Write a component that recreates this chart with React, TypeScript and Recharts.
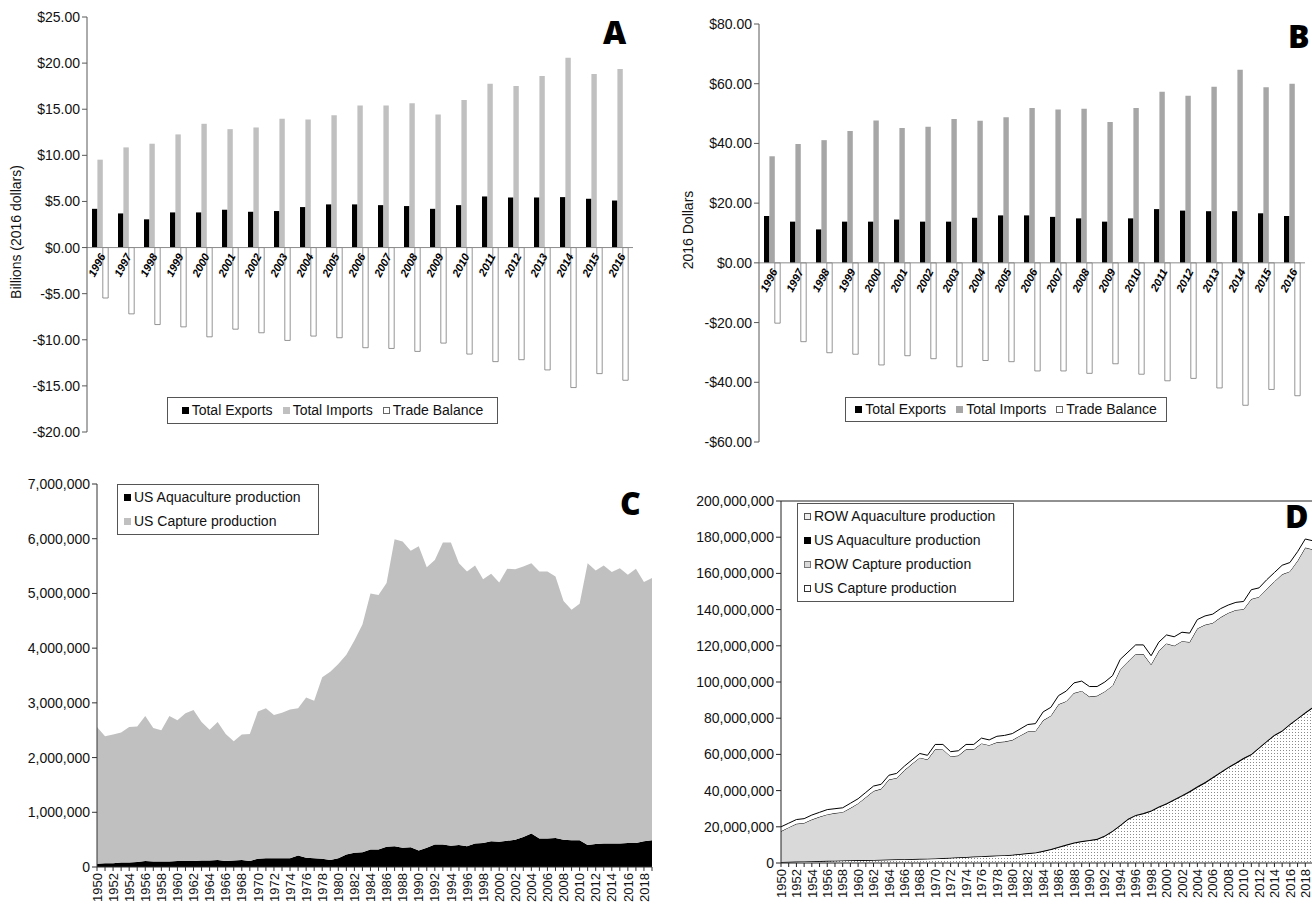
import React from 'react';
import { BarChart, Bar, XAxis, YAxis, ReferenceLine, AreaChart, Area, Legend } from 'recharts';

const FONT = '"Liberation Sans", Arial, sans-serif';
const LETTER_FONT = '"Open Sans", "DejaVu Sans", sans-serif';

// ---------- Panels A & B: trade (billions) ----------
const tradeYears = ['1996', '1997', '1998', '1999', '2000', '2001', '2002', '2003', '2004', '2005', '2006', '2007', '2008', '2009', '2010', '2011', '2012', '2013', '2014', '2015', '2016'];

const exportsA = [4.2, 3.7, 3.06, 3.81, 3.81, 4.1, 3.88, 3.96, 4.39, 4.68, 4.68, 4.6, 4.5, 4.2, 4.6, 5.54, 5.43, 5.43, 5.47, 5.29, 5.1];
const importsA = [9.53, 10.86, 11.26, 12.27, 13.42, 12.84, 13.02, 13.96, 13.88, 14.35, 15.4, 15.4, 15.65, 14.42, 16.0, 17.77, 17.52, 18.6, 20.58, 18.81, 19.35];
const balanceA = [-5.47, -7.19, -8.35, -8.6, -9.68, -8.85, -9.24, -10.07, -9.6, -9.78, -10.86, -10.94, -11.26, -10.36, -11.55, -12.37, -12.16, -13.27, -15.18, -13.67, -14.39];

const exportsB = [15.7, 13.8, 11.2, 13.8, 13.8, 14.5, 13.8, 13.8, 15.1, 15.9, 15.9, 15.4, 14.9, 13.8, 14.9, 18.0, 17.5, 17.3, 17.3, 16.6, 15.7];
const importsB = [35.7, 39.8, 41.1, 44.2, 47.7, 45.2, 45.6, 48.2, 47.6, 48.8, 51.9, 51.4, 51.6, 47.2, 51.9, 57.3, 56.0, 59.0, 64.7, 58.8, 60.0];
const balanceB = [-20.2, -26.4, -30.1, -30.6, -34.2, -31.1, -32.1, -34.8, -32.7, -33.1, -36.2, -36.2, -37.0, -33.8, -37.3, -39.5, -38.7, -41.9, -47.7, -42.4, -44.5];

const ticksA = [-20, -15, -10, -5, 0, 5, 10, 15, 20, 25];
const ticksB = [-60, -40, -20, 0, 20, 40, 60, 80];

// ---------- Panels C & D: production (million tonnes) ----------
const prodYears = ['1950', '1951', '1952', '1953', '1954', '1955', '1956', '1957', '1958', '1959',
  '1960', '1961', '1962', '1963', '1964', '1965', '1966', '1967', '1968', '1969',
  '1970', '1971', '1972', '1973', '1974', '1975', '1976', '1977', '1978', '1979',
  '1980', '1981', '1982', '1983', '1984', '1985', '1986', '1987', '1988', '1989',
  '1990', '1991', '1992', '1993', '1994', '1995', '1996', '1997', '1998', '1999',
  '2000', '2001', '2002', '2003', '2004', '2005', '2006', '2007', '2008', '2009',
  '2010', '2011', '2012', '2013', '2014', '2015', '2016', '2017', '2018', '2019'];

const usAqua = [0.06, 0.07, 0.07, 0.08, 0.08, 0.09, 0.11, 0.10, 0.10, 0.10,
  0.11, 0.11, 0.11, 0.12, 0.12, 0.13, 0.11, 0.12, 0.13, 0.11,
  0.15, 0.16, 0.16, 0.16, 0.16, 0.21, 0.17, 0.16, 0.15, 0.13,
  0.16, 0.23, 0.26, 0.27, 0.32, 0.32, 0.37, 0.38, 0.35, 0.36,
  0.30, 0.35, 0.41, 0.41, 0.39, 0.40, 0.38, 0.43, 0.44, 0.47,
  0.46, 0.48, 0.50, 0.55, 0.61, 0.52, 0.52, 0.53, 0.50, 0.49,
  0.49, 0.40, 0.42, 0.43, 0.43, 0.43, 0.44, 0.44, 0.47, 0.49];

const usCapture = [2.50, 2.32, 2.35, 2.38, 2.48, 2.48, 2.65, 2.44, 2.40, 2.66,
  2.57, 2.70, 2.76, 2.53, 2.39, 2.52, 2.32, 2.18, 2.29, 2.32,
  2.69, 2.74, 2.62, 2.66, 2.72, 2.69, 2.93, 2.88, 3.32, 3.44,
  3.55, 3.65, 3.88, 4.16, 4.68, 4.65, 4.82, 5.61, 5.60, 5.42,
  5.56, 5.13, 5.20, 5.52, 5.54, 5.15, 5.02, 5.08, 4.82, 4.89,
  4.74, 4.97, 4.94, 4.94, 4.94, 4.88, 4.88, 4.78, 4.36, 4.21,
  4.32, 5.15, 5.00, 5.08, 4.96, 5.03, 4.90, 5.01, 4.74, 4.79];

const rowAqua = [0.5, 0.6, 0.7, 0.8, 0.9, 1.0, 1.1, 1.2, 1.3, 1.4,
  1.5, 1.5, 1.6, 1.7, 1.8, 1.9, 2.0, 2.1, 2.2, 2.3,
  2.4, 2.6, 2.8, 3.0, 3.2, 3.4, 3.6, 3.8, 4.0, 4.2,
  4.4, 4.8, 5.2, 5.6, 6.4, 7.4, 8.6, 9.8, 11.0, 11.8,
  12.4, 13.0, 14.8, 17.4, 20.6, 24.0, 26.2, 27.2, 28.6, 30.8,
  32.6, 34.8, 37.0, 39.2, 41.8, 44.2, 47.0, 49.8, 52.6, 55.0,
  57.6, 59.8, 63.4, 67.0, 70.4, 72.8, 76.4, 79.6, 82.8, 85.8];

const rowCapture = [16.94, 19.01, 20.88, 21.24, 23.04, 24.43, 25.64, 26.26, 26.70, 28.84,
  31.32, 34.69, 38.03, 39.15, 44.19, 44.95, 49.07, 52.60, 55.88, 54.77,
  60.26, 60.00, 55.92, 56.18, 59.42, 59.20, 62.30, 61.16, 62.53, 62.73,
  63.39, 65.32, 67.16, 66.97, 72.10, 73.63, 78.71, 79.21, 82.55, 82.92,
  79.24, 79.02, 79.59, 80.17, 85.97, 86.95, 88.90, 87.79, 80.64, 85.84,
  88.20, 84.75, 85.06, 82.31, 87.15, 86.90, 85.10, 85.39, 85.04, 84.30,
  82.09, 85.65, 83.18, 83.99, 84.71, 86.24, 84.26, 86.95, 90.99, 86.92];

const ticksC = [0, 1e6, 2e6, 3e6, 4e6, 5e6, 6e6, 7e6];
const ticksD = [0, 20e6, 40e6, 60e6, 80e6, 100e6, 120e6, 140e6, 160e6, 180e6, 200e6];

const MILLION = 1e6;

const tradeRows = (exp: number[], imp: number[], bal: number[]) =>
  tradeYears.map((year, i) => ({ year, exports: exp[i], imports: imp[i], balance: bal[i] }));

const prodRows = prodYears.map((year, i) => ({
  year,
  usAqua: usAqua[i] * MILLION,
  usCapture: usCapture[i] * MILLION,
  rowAqua: rowAqua[i] * MILLION,
  rowCapture: rowCapture[i] * MILLION,
}));

const money = (v: number) => (v < 0 ? `-$${Math.abs(v).toFixed(2)}` : `$${v.toFixed(2)}`);
const intFmt = (v: number) => Math.round(v).toLocaleString('en-US');

type Item = { label: string; fill: string; border?: string };

function LegendBox({ items, horizontal, width, height, rowGap }: { items: Item[]; horizontal?: boolean; width: number; height: number; rowGap?: number }) {
  return (
    <div
      style={{
        width,
        height,
        boxSizing: 'border-box',
        border: '1px solid #555',
        background: '#fff',
        display: 'flex',
        flexDirection: horizontal ? 'row' : 'column',
        alignItems: horizontal ? 'center' : 'flex-start',
        justifyContent: horizontal ? 'center' : 'flex-start',
        padding: horizontal ? '0 6px' : '4px 6px',
        gap: horizontal ? 10 : rowGap,
        fontFamily: FONT,
        fontSize: 14,
        color: '#111',
        whiteSpace: 'nowrap',
      }}
    >
      {items.map((it) => (
        <div key={it.label} style={{ display: 'flex', alignItems: 'center', lineHeight: '17px' }}>
          <span
            style={{
              display: 'inline-block',
              width: 7,
              height: 7,
              boxSizing: 'border-box',
              background: it.fill,
              border: it.border ? `1px solid ${it.border}` : 'none',
              marginRight: 3,
            }}
          />
          <span>{it.label}</span>
        </div>
      ))}
    </div>
  );
}

function Letter({ ch, left, top }: { ch: string; left: number; top: number }) {
  return (
    <div style={{ position: 'absolute', left, top, fontFamily: LETTER_FONT, fontWeight: 800, fontSize: 32, lineHeight: 1, color: '#000' }}>
      {ch}
    </div>
  );
}

function VLabel({ text, cx, cy }: { text: string; cx: number; cy: number }) {
  return (
    <div style={{ position: 'absolute', left: cx, top: cy, width: 0, height: 0 }}>
      <div
        style={{
          position: 'absolute',
          transform: 'translate(-50%, -50%) rotate(-90deg)',
          whiteSpace: 'nowrap',
          fontFamily: FONT,
          fontSize: 14,
          color: '#111',
        }}
      >
        {text}
      </div>
    </div>
  );
}

type TradeProps = {
  left: number;
  data: any[];
  domain: [number, number];
  ticks: number[];
  importColor: string;
  margin: { top: number; right: number; bottom: number; left: number };
  legendX: number;
  legendY: number;
  legendW: number;
  legendH: number;
};

const X_AXIS_H = 2;

function TradePanel({ left, data, domain, ticks, importColor, margin, legendX, legendY, legendW, legendH }: TradeProps) {
  const W = 656;
  const H = 450;
  const plotH = H - margin.top - margin.bottom - X_AXIS_H;
  const zeroY = margin.top + (domain[1] / (domain[1] - domain[0])) * plotH;
  const YearTick = (p: any) => (
    <text
      transform={`translate(${p.x + 3},${zeroY + 7}) rotate(-62)`}
      textAnchor="end"
      dy="0.3em"
      fontSize={11}
      fontWeight={700}
      fontStyle="italic"
      fontFamily={FONT}
      fill="#000"
    >
      {p.payload.value}
    </text>
  );
  const items: Item[] = [
    { label: 'Total Exports', fill: '#000' },
    { label: 'Total Imports', fill: importColor },
    { label: 'Trade Balance', fill: '#fff', border: '#666' },
  ];
  return (
    <div style={{ position: 'absolute', left, top: 0, width: W, height: H }}>
      <BarChart width={W} height={H} data={data} margin={margin} barGap={0} barSize={5.4}>
        <XAxis dataKey="year" height={X_AXIS_H} axisLine={false} tickLine={false} interval={0} tick={YearTick} />
        <YAxis
          width={70}
          domain={domain}
          ticks={ticks}
          interval={0}
          tickFormatter={money}
          tick={{ fontSize: 14, fill: '#111', fontFamily: FONT }}
          axisLine={{ stroke: '#595959' }}
          tickLine={{ stroke: '#595959' }}
          tickSize={5}
        />
        <Bar dataKey="exports" fill="#000" isAnimationActive={false} />
        <Bar dataKey="imports" fill={importColor} isAnimationActive={false} />
        <Bar dataKey="balance" fill="#fff" stroke="#7a7a7a" strokeWidth={0.8} isAnimationActive={false} />
        <ReferenceLine y={0} stroke="#8c8c8c" />
        <Legend
          layout="horizontal"
          verticalAlign="middle"
          align="center"
          wrapperStyle={{ left: legendX, top: legendY, width: 'auto', height: 'auto' }}
          content={() => <LegendBox items={items} horizontal width={legendW} height={legendH} />}
        />
      </BarChart>
    </div>
  );
}

const YearTickV = (p: any) => {
  const v = String(p.payload.value);
  if (Number(v) % 2 !== 0) return <g />;
  return (
    <text
      x={p.x}
      y={p.y}
      transform={`rotate(-90 ${p.x} ${p.y})`}
      textAnchor="end"
      dy="0.36em"
      fontSize={13}
      fontFamily={FONT}
      fill="#111"
    >
      {v}
    </text>
  );
};

function PanelC() {
  const items: Item[] = [
    { label: 'US Aquaculture production', fill: '#000' },
    { label: 'US Capture production', fill: '#c0c0c0' },
  ];
  return (
    <div style={{ position: 'absolute', left: 0, top: 450, width: 656, height: 455 }}>
      <AreaChart width={656} height={455} data={prodRows} margin={{ top: 34, right: 4, left: 27, bottom: 0 }}>
        <XAxis
          dataKey="year"
          height={38}
          interval={0}
          tick={YearTickV}
          tickSize={4}
          tickMargin={2}
          axisLine={{ stroke: '#333' }}
          tickLine={{ stroke: '#333' }}
        />
        <YAxis
          width={70}
          domain={[0, 7e6]}
          ticks={ticksC}
          interval={0}
          tickFormatter={intFmt}
          tick={{ fontSize: 14, fill: '#111', fontFamily: FONT }}
          axisLine={{ stroke: '#333' }}
          tickLine={{ stroke: '#333' }}
          tickSize={5}
        />
        <Area type="linear" dataKey="usAqua" stackId="c" stroke="none" fill="#000" fillOpacity={1} isAnimationActive={false} />
        <Area type="linear" dataKey="usCapture" stackId="c" stroke="none" fill="#c0c0c0" fillOpacity={1} isAnimationActive={false} />
        <Legend
          layout="horizontal"
          verticalAlign="middle"
          align="center"
          wrapperStyle={{ left: 117, top: 34, width: 'auto', height: 'auto' }}
          content={() => <LegendBox items={items} width={202} height={51} rowGap={7} />}
        />
      </AreaChart>
    </div>
  );
}

function PanelD() {
  const items: Item[] = [
    { label: 'ROW Aquaculture production', fill: '#eee', border: '#555' },
    { label: 'US Aquaculture production', fill: '#000' },
    { label: 'ROW Capture production', fill: '#d9d9d9', border: '#777' },
    { label: 'US Capture production', fill: '#fff', border: '#333' },
  ];
  return (
    <div style={{ position: 'absolute', left: 656, top: 450, width: 666, height: 455 }}>
      <AreaChart width={666} height={455} data={prodRows} margin={{ top: 51, right: 9, left: 55, bottom: 0 }}>
        <defs>
          <pattern id="rowAquaDots" width="3" height="3" patternUnits="userSpaceOnUse">
            <rect width="3" height="3" fill="#fff" />
            <rect width="1" height="1" fill="#8a8a8a" />
          </pattern>
        </defs>
        <XAxis
          dataKey="year"
          height={42}
          interval={0}
          tick={YearTickV}
          tickSize={4}
          tickMargin={2}
          axisLine={{ stroke: '#222' }}
          tickLine={{ stroke: '#222' }}
        />
        <YAxis
          width={70}
          domain={[0, 200e6]}
          ticks={ticksD}
          interval={0}
          tickFormatter={intFmt}
          tick={{ fontSize: 14, fill: '#111', fontFamily: FONT }}
          axisLine={{ stroke: '#222' }}
          tickLine={{ stroke: '#222' }}
          tickSize={5}
        />
        <Area type="linear" dataKey="rowAqua" stackId="d" stroke="#000" strokeWidth={1} fill="url(#rowAquaDots)" fillOpacity={1} isAnimationActive={false} />
        <Area type="linear" dataKey="usAqua" stackId="d" stroke="#000" strokeWidth={1} fill="#000" fillOpacity={1} isAnimationActive={false} />
        <Area type="linear" dataKey="rowCapture" stackId="d" stroke="#000" strokeWidth={1} fill="#d9d9d9" fillOpacity={1} isAnimationActive={false} />
        <Area type="linear" dataKey="usCapture" stackId="d" stroke="#000" strokeWidth={1} fill="#fff" fillOpacity={1} isAnimationActive={false} />
        <ReferenceLine y={200e6} stroke="#222" />
        <Legend
          layout="horizontal"
          verticalAlign="middle"
          align="center"
          wrapperStyle={{ left: 141, top: 53, width: 'auto', height: 'auto' }}
          content={() => <LegendBox items={items} width={217} height={99} rowGap={7} />}
        />
      </AreaChart>
    </div>
  );
}

export default function App() {
  return (
    <div style={{ position: 'absolute', left: 0, top: 0, width: 1312, height: 905, overflow: 'hidden', background: '#fff' }}>
      <TradePanel
        left={0}
        data={tradeRows(exportsA, importsA, balanceA)}
        domain={[-20, 25]}
        ticks={ticksA}
        importColor="#c0c0c0"
        margin={{ top: 17, right: 23, bottom: 16, left: 17 }}
        legendX={167}
        legendY={397}
        legendW={331}
        legendH={27}
      />
      <TradePanel
        left={656}
        data={tradeRows(exportsB, importsB, balanceB)}
        domain={[-60, 80]}
        ticks={ticksB}
        importColor="#a6a6a6"
        margin={{ top: 24, right: 7, bottom: 6, left: 33 }}
        legendX={189}
        legendY={397}
        legendW={322}
        legendH={25}
      />
      <PanelC />
      <PanelD />
      <VLabel text="Billions (2016 dollars)" cx={16} cy={232} />
      <VLabel text="2016 Dollars" cx={688} cy={230} />
      <Letter ch="A" left={603} top={16} />
      <Letter ch="B" left={1288} top={20} />
      <Letter ch="C" left={620} top={487} />
      <Letter ch="D" left={1285} top={500} />
    </div>
  );
}
